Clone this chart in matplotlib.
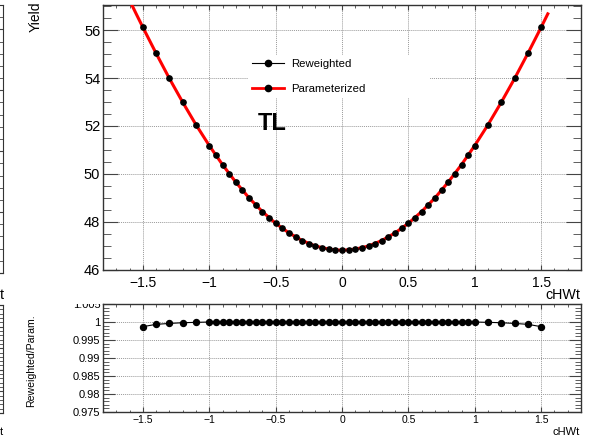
import matplotlib.pyplot as plt
from matplotlib.ticker import MultipleLocator, FuncFormatter
from matplotlib.lines import Line2D
from matplotlib.patches import Rectangle

plt.rcParams['font.family'] = ['Liberation Sans', 'DejaVu Sans']

# cHWt scan points
cHWt = [-1.5, -1.4, -1.3, -1.2, -1.1,
        -1.0, -0.95, -0.9, -0.85, -0.8, -0.75, -0.7, -0.65, -0.6, -0.55,
        -0.5, -0.45, -0.4, -0.35, -0.3, -0.25, -0.2, -0.15, -0.1, -0.05,
        0.0, 0.05, 0.1, 0.15, 0.2, 0.25, 0.3, 0.35, 0.4, 0.45,
        0.5, 0.55, 0.6, 0.65, 0.7, 0.75, 0.8, 0.85, 0.9, 0.95,
        1.0, 1.1, 1.2, 1.3, 1.4, 1.5]

# reweighted yields
yield_rw = [56.12, 55.03, 53.98, 52.99, 52.05,
            51.18, 50.77, 50.38, 50.00, 49.65, 49.31, 48.99, 48.70, 48.42, 48.17,
            47.93, 47.72, 47.53, 47.36, 47.21, 47.08, 46.98, 46.90, 46.85, 46.81,
            46.80, 46.81, 46.85, 46.90, 46.98, 47.08, 47.21, 47.36, 47.53, 47.72,
            47.93, 48.17, 48.42, 48.70, 48.99, 49.31, 49.65, 50.00, 50.38, 50.77,
            51.18, 52.05, 52.99, 53.98, 55.03, 56.12]

# parameterized curve
param_x = [-1.6, -1.55, -1.5, -1.4, -1.3, -1.2, -1.1, -1.0, -0.9, -0.8, -0.7,
           -0.6, -0.5, -0.4, -0.3, -0.2, -0.1, 0.0, 0.1, 0.2, 0.3, 0.4, 0.5,
           0.6, 0.7, 0.8, 0.9, 1.0, 1.1, 1.2, 1.3, 1.4, 1.5, 1.55]
param_y = [57.25, 56.68, 56.12, 55.03, 53.98, 52.99, 52.05, 51.18, 50.38, 49.65, 48.99,
           48.42, 47.93, 47.53, 47.21, 46.98, 46.85, 46.80, 46.85, 46.98, 47.21, 47.53, 47.93,
           48.42, 48.99, 49.65, 50.38, 51.18, 52.05, 52.99, 53.98, 55.03, 56.12, 56.68]

# ratio reweighted / parameterized
ratio = [0.9987, 0.99935, 0.9996, 0.9998, 0.9999,
         1.0, 1.0, 1.0, 1.0, 1.0, 1.0, 1.0, 1.0, 1.0, 1.0,
         1.0, 1.0, 1.0, 1.0, 1.0, 1.0, 1.0, 1.0, 1.0, 1.0,
         1.0, 1.0, 1.0, 1.0, 1.0, 1.0, 1.0, 1.0, 1.0, 1.0,
         1.0, 1.0, 1.0, 1.0, 1.0, 1.0, 1.0, 1.0, 1.0, 1.0,
         1.0, 0.9999, 0.9998, 0.9996, 0.99935, 0.9987]


def fmt(v, pos):
    v = round(v, 6)
    if v == 0:
        v = 0.0
    return f'{v:g}'.replace('-', '\u2212')


W, H = 600, 443
fig = plt.figure(figsize=(6, 4.43), dpi=100)


def box(left, top, right, bottom):
    return [left / W, 1 - bottom / H, (right - left) / W, (bottom - top) / H]


ax = fig.add_axes(box(103, 5, 581, 269.5))
rax = fig.add_axes(box(103, 304, 581, 412))

tick_col = '#444444'
for a in (ax, rax):
    for s in a.spines.values():
        s.set_color('#333333')
        s.set_linewidth(1.0)
    a.grid(True, which='major', color='#9a9a9a', linestyle=(0, (1, 1)), linewidth=0.7)
    a.set_axisbelow(True)
    a.tick_params(which='both', direction='in', top=True, right=True, color=tick_col)
    a.set_xlim(-1.8, 1.8)
    a.xaxis.set_major_locator(MultipleLocator(0.5))
    a.xaxis.set_minor_locator(MultipleLocator(0.1))
    a.xaxis.set_major_formatter(FuncFormatter(fmt))
    a.yaxis.set_major_formatter(FuncFormatter(fmt))

# main pad
ax.plot(cHWt, yield_rw, color='black', lw=0.8, zorder=2)
ax.plot(param_x, param_y, color='red', lw=2.2, zorder=3)
ax.plot(cHWt, yield_rw, 'o', color='black', ms=3.8, zorder=4)
ax.set_ylim(46, 57.05)
ax.yaxis.set_major_locator(MultipleLocator(2))
ax.yaxis.set_minor_locator(MultipleLocator(0.5))
ax.tick_params(axis='y', which='major', length=11, pad=2, labelsize=10.5)
ax.tick_params(axis='y', which='minor', length=5.5)
ax.tick_params(axis='x', which='major', length=3.5, pad=5, labelsize=10)
ax.tick_params(axis='x', which='minor', length=1.8)

handles = [Line2D([], [], color='black', lw=0.8, marker='o', ms=4.5),
           Line2D([], [], color='red', lw=2, marker='o', mfc='black', mec='black', ms=4.5)]
leg = ax.legend(handles, ['Reweighted', 'Parameterized'],
                bbox_to_anchor=(0.303, 0.640, 0.381, 0.179), loc='center', mode='expand',
                borderaxespad=0, fontsize=8.2, frameon=True, fancybox=False,
                handlelength=2.8, handletextpad=0.6, labelspacing=1.25, borderpad=0.4)
leg.get_frame().set_edgecolor('none')
leg.get_frame().set_facecolor('white')
leg.get_frame().set_alpha(1)

ax.text(0.324, 0.595, 'TL', transform=ax.transAxes, fontsize=17, fontweight='bold',
        ha='left', va='top')

# ratio pad
rax.plot(cHWt, ratio, color='black', lw=0.8, marker='o', ms=4.3, zorder=4)
rax.set_ylim(0.975, 1.005)
rax.yaxis.set_major_locator(MultipleLocator(0.005))
rax.yaxis.set_minor_locator(MultipleLocator(0.001))
rax.tick_params(axis='y', which='major', length=8.5, pad=2, labelsize=8)
rax.tick_params(axis='y', which='minor', length=4.5)
rax.tick_params(axis='x', which='major', length=3.5, pad=2, labelsize=7.5)
rax.tick_params(axis='x', which='minor', length=1.8)

# axis titles
fig.text(36 / W, 1 - 2 / H, 'Yield', rotation=90, ha='center', va='top', fontsize=10)
fig.text(580 / W, 1 - 288 / H, 'cHWt', ha='right', va='top', fontsize=10.3)
fig.text(31.5 / W, 1 - 361 / H, 'Reweighted/Param.', rotation=90, ha='center', va='center',
         fontsize=7.6)
fig.text(580 / W, 1 - 427 / H, 'cHWt', ha='right', va='top', fontsize=8)

# the top label of the ratio pad is partly hidden by the upper pad
fig.add_artist(Rectangle((55 / W, 1 - 303.5 / H), 46 / W, 8 / H, transform=fig.transFigure,
                         facecolor='white', edgecolor='none', zorder=10))

# edge of the neighbouring canvas on the left
for top, bottom, step in ((5, 273, 1), (305, 413, 0.2)):
    la = fig.add_axes(box(-300, top, 3, bottom))
    la.set_ylim(0, 22 if step == 1 else 5)
    la.yaxis.set_major_locator(MultipleLocator(step * 5))
    la.yaxis.set_minor_locator(MultipleLocator(step))
    la.set_xticks([])
    la.tick_params(axis='y', which='both', direction='in', left=False, right=True,
                   labelleft=False, color=tick_col)
    la.tick_params(axis='y', which='major', length=8)
    la.tick_params(axis='y', which='minor', length=4)
    for s in la.spines.values():
        s.set_color('#333333')
fig.text(0, 1 - 288 / H, 't', ha='left', va='top', fontsize=10.3)
fig.text(0, 1 - 427 / H, 't', ha='left', va='top', fontsize=8)

fig.savefig('out.png', dpi=100)
